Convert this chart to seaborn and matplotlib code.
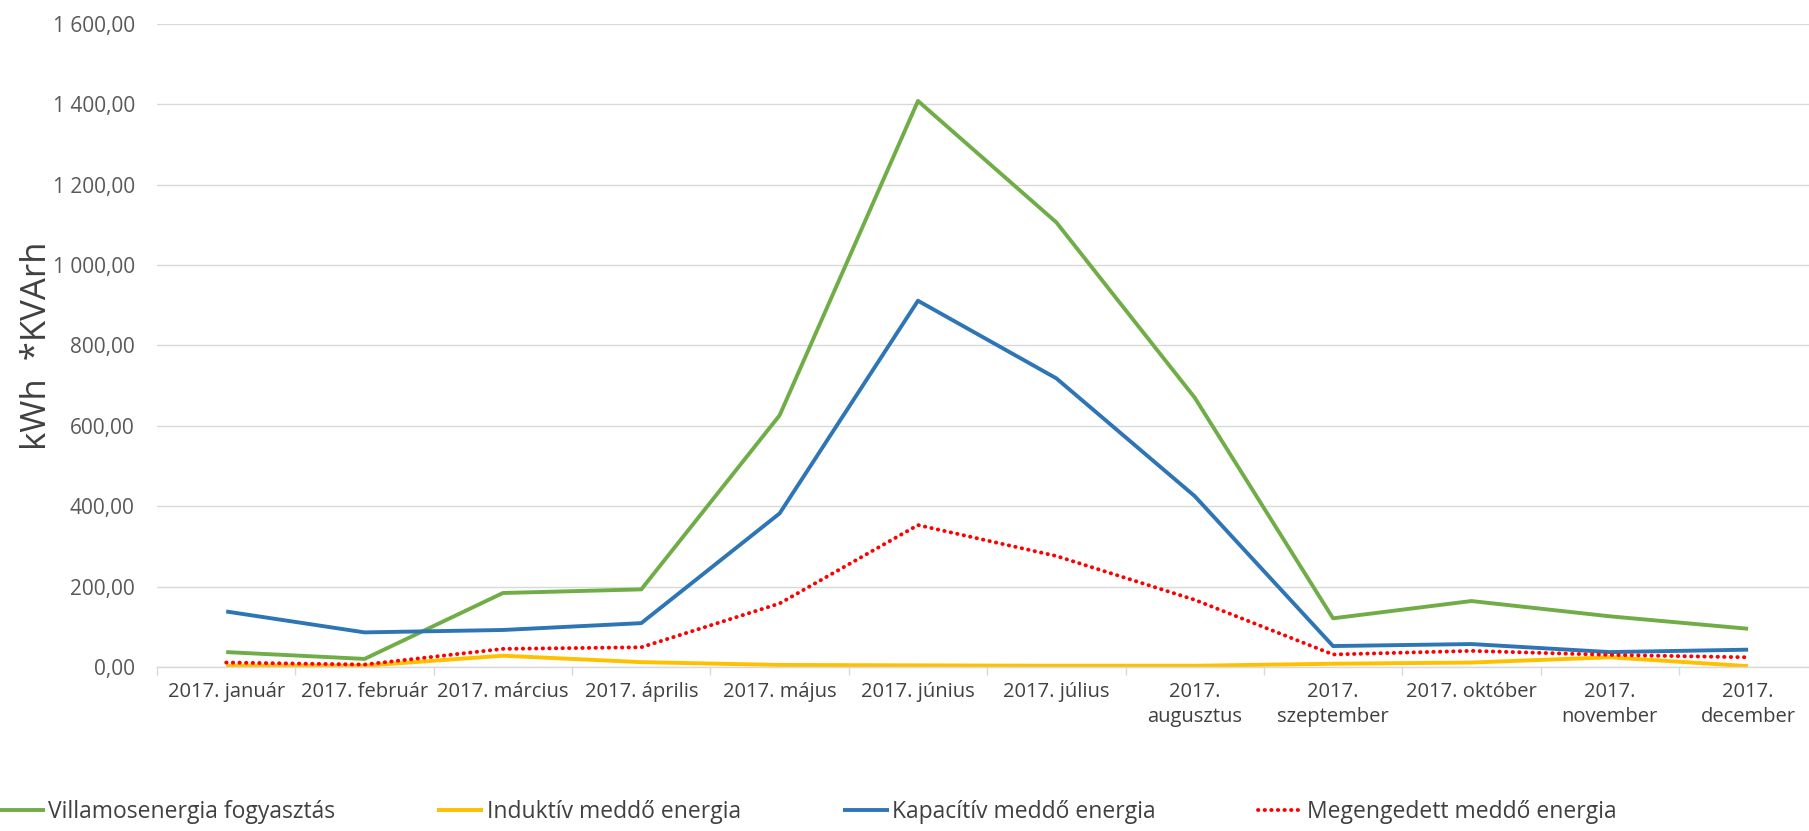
import pandas as pd
import seaborn as sns
import matplotlib.pyplot as plt
from matplotlib.ticker import FuncFormatter, FixedLocator

honapok = ['2017. január', '2017. február', '2017. március', '2017. április',
           '2017. május', '2017. június', '2017. július', '2017.\naugusztus',
           '2017.\nszeptember', '2017. október', '2017.\nnovember', '2017.\ndecember']

villamos = [37, 20, 184, 193, 626, 1408, 1106, 670, 121, 164, 126, 95]
induktiv = [3, 3, 28, 12, 5, 4, 3, 3, 8, 11, 24, 2]
kapacitiv = [138, 86, 92, 109, 382, 911, 718, 425, 52, 57, 37, 43]
megengedett = [11, 6, 45, 49, 158, 353, 276, 167, 31, 40, 30, 24]

sorozatok = [
    ('Villamosenergia fogyasztás', villamos, '#70AD47', '-'),
    ('Induktív meddő energia', induktiv, '#FFC000', '-'),
    ('Kapacítív meddő energia', kapacitiv, '#2E75B6', '-'),
    ('Megengedett meddő energia', megengedett, '#FF0000', (0, (0.1, 1.6))),
]

sns.set_theme(style='white')
plt.rcParams['font.family'] = ['Open Sans', 'DejaVu Sans']

fig = plt.figure(figsize=(18.09, 8.31), dpi=100)
ax = fig.add_axes([0.0868, 0.1974, 0.9132, 0.774])

df = pd.DataFrame({'honap': honapok})
for nev, ertekek, szin, stilus in sorozatok:
    df['ertek'] = ertekek
    sns.lineplot(data=df, x='honap', y='ertek', sort=False, ax=ax, color=szin,
                 linewidth=2.8, label=nev, linestyle=stilus,
                 dash_capstyle='round', solid_capstyle='butt')

ax.set_xlim(-0.5, 11.44)
ax.set_ylim(0, 1600)
ax.set_yticks(range(0, 1601, 200))
ax.yaxis.set_major_formatter(FuncFormatter(
    lambda v, p: f'{v:,.2f}'.replace(',', ' ').replace('.', ',')))
ax.grid(axis='y', color='#D9D9D9', linewidth=1)
ax.set_axisbelow(True)

for s in ['left', 'right', 'top']:
    ax.spines[s].set_visible(False)
ax.spines['bottom'].set_color('#D9D9D9')
ax.spines['bottom'].set_linewidth(1)

ax.set_xticks(range(len(honapok)))
ax.set_xticklabels(honapok, fontsize=14.5, color='#404040', linespacing=1.3)
ax.xaxis.set_minor_locator(FixedLocator([i - 0.5 for i in range(13)]))
ax.tick_params(axis='x', which='major', length=0, pad=11)
ax.tick_params(axis='x', which='minor', length=6, color='#D9D9D9', width=1, direction='out', bottom=True)
ax.tick_params(axis='y', length=0, pad=16, labelsize=15, labelcolor='#595959')

ax.set_xlabel('')
ax.set_ylabel('kWh  *KVArh', fontsize=25, color='#404040', va='center')
ax.yaxis.set_label_coords(-0.0726, 0.5)

ax.get_legend().remove()
handles, labels = ax.get_legend_handles_labels()
fig.legend(handles, labels, loc='lower left', bbox_to_anchor=(-0.012, -0.016), ncol=4,
           frameon=False, fontsize=16.5, handlelength=2.0, handletextpad=0.15,
           columnspacing=4.45, labelcolor='#404040')

fig.savefig('out.png', dpi=100)
